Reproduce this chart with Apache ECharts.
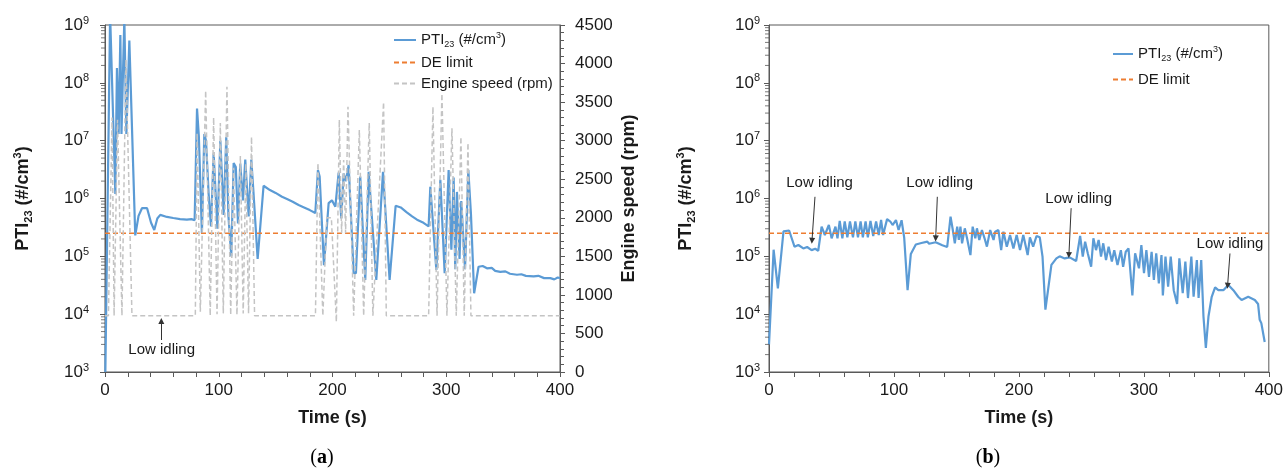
<!DOCTYPE html>
<html><head><meta charset="utf-8">
<script src="https://cdn.jsdelivr.net/npm/echarts@6/dist/echarts.min.js"></script>
<style>html,body{margin:0;padding:0;background:#fff}#c{width:1286px;height:468px}</style>
</head><body><div id="c"></div>
<script>
// ---------------- data ----------------
const timeTicks = [0, 100, 200, 300, 400];
const deLimitValue = 2.5e5;
const deLimitSpan = [0, 400];
const logDecades = [3, 4, 5, 6, 7, 8];
const logMinorSteps = [2, 3, 4, 5, 6, 7, 8, 9];

// (a) PTI23 [time s, #/cm3]
const ptiA = [
 [0.3,1e3],[4.5,1.5e9],[5.8,1.5e9],[9.1,1.2e6],[10.5,1.8e8],[12,1.3e7],[13.5,6.7e8],[14.5,1.3e7],
 [17,1.3e9],[18.8,1.3e7],[21.4,5.4e8],[26.6,2.3e5],[29.5,5e5],[32.5,6.8e5],[37,6.8e5],[40.5,3.8e5],
 [43.3,2.85e5],[46,4.5e5],[48.6,5.2e5],[54.5,4.8e5],[60,4.6e5],[66,4.4e5],[72,4.3e5],[76,4.4e5],[78.8,4.2e5],
 [80.9,3.6e7],[82.5,1.2e7],[85.2,2.5e5],[87.3,1.3e7],[88.8,1e7],[91.1,1.2e6],[93.2,3.3e5],[95.5,6e6],
 [98.8,3e5],[101.4,1e7],[104.3,5.2e5],[106.6,1.15e7],[108.5,5e5],[111,1.0e5],[113.1,4.1e6],[115,3.5e6],
 [116.9,3.7e5],[118.9,4e6],[121.3,9.3e5],[123.3,4.7e6],[126.3,4.9e5],[128.6,4.7e6],[130.3,1.5e6],
 [134.2,9e4],[139.4,1.66e6],[145,1.4e6],[150,1.25e6],[155.6,1.07e6],[160,9.8e5],[165,8.8e5],[170.2,7.7e5],
 [175,7e5],[180,6.3e5],[184.9,5.6e5],[187.2,3.1e6],[188.7,2.4e6],[192.5,7e4],[196.6,8.3e5],[199.5,9.3e5],
 [202.5,7.2e5],[205.4,2.8e6],[207.7,4.5e5],[209.8,2.7e6],[211.8,2e6],[214.2,3.8e6],[215.6,9.3e5],
 [218.6,5.1e4],[220.6,5.1e4],[224.4,2.4e6],[228.8,3.9e4],[231.8,2.9e6],[238.5,3.9e4],[244.4,2.9e6],
 [250.2,3.9e4],[255.5,7.5e5],[260,7e5],[265,5.8e5],[270,4.9e5],[274.3,4.3e5],[280,3.8e5],[284.5,3.3e5],
 [286,1.6e6],[287.4,1.5e6],[291.3,5.8e4],[294.8,2.1e6],[298.6,5.1e4],[302.1,3.1e6],[304.5,1.3e5],
 [306.5,2.3e6],[307.9,6e4],[309.4,1.3e6],[311.7,9e4],[313.2,9e5],[316.5,6e4],[319.4,3.1e6],[321.7,5.5e5],
 [324.5,2.3e4],[328.4,6.6e4],[332,6.8e4],[335.8,6.2e4],[340,6.3e4],[343,5.6e4],[347.5,5.4e4],[352,5.5e4],
 [356,5e4],[362.2,4.8e4],[366,4.9e4],[370,4.6e4],[376.8,4.5e4],[381,4.6e4],[386,4.2e4],[391.5,4.2e4],
 [395,4e4],[398,4.3e4],[400,4.2e4]
];

// (a) Engine speed [time s, rpm]
const engineSpeedA = [
 [0,730],[3,730],[6.2,3300],[8,730],[11,3270],[14.9,730],[18.4,4050],[23.7,730],[79.4,730],
 [81,3100],[83.8,780],[88.5,3650],[92.5,730],[95.5,3300],[98.5,750],[101.4,3230],[104,760],
 [107.2,3700],[110.5,740],[113,2650],[116,740],[119,2800],[121.5,760],[123.8,2700],[126.2,760],
 [128.8,3050],[131.5,730],[185,730],[187.2,2710],[191.5,730],[195,2000],[199,2000],[203.4,650],
 [206,3270],[208,1800],[209.8,2750],[211.5,1800],[213.6,3440],[218.6,730],[220,730],[223.6,3140],
 [227.4,730],[232.3,3230],[235.5,730],[244.9,3500],[247.3,730],[284.5,730],[288.3,3440],[291.9,730],
 [296.2,3610],[300.6,730],[305,3160],[308.8,730],[312.9,3050],[315.8,730],[319.1,2970],[321.7,730],[400,730]
];

// (b) PTI23 [time s, #/cm3]
const ptiB = [
 [0,3e3],[3.7,1.3e5],[7.1,2.8e4],[11.6,2.7e5],[16.1,2.8e5],[20.4,1.47e5],[23.5,1.57e5],[27.5,1.37e5],
 [30.5,1.45e5],[34.1,1.28e5],[37,1.35e5],[39.4,1.25e5],[42.1,3.26e5],[44.7,2.34e5],[47.9,3.48e5],
 [50.1,2.05e5],[53.2,3.26e5],[54.8,2.05e5],[56.6,4.1e5],[58.7,2.05e5],[60.6,4e5],[62.7,2.13e5],
 [64.8,4e5],[67.2,2.13e5],[69.1,4e5],[71.2,2.13e5],[73.3,4e5],[75.1,2.13e5],[77.3,4e5],[79.1,2.13e5],
 [81.2,4.1e5],[83.4,2.25e5],[85.7,4e5],[87.8,2.34e5],[89.7,4.25e5],[91.3,2.34e5],[94.5,4.4e5],
 [97.1,4e5],[98.9,3.48e5],[101.6,4.25e5],[103.7,2.85e5],[106.1,4.2e5],[108.2,2.1e5],[110.9,2.6e4],
 [113.5,1.1e5],[117.5,1.6e5],[122,1.7e5],[126.7,1.8e5],[128.1,1.65e5],[133.4,1.75e5],[138.7,1.55e5],
 [142.6,1.45e5],[145.3,4.86e5],[147.1,2.85e5],[148.7,1.68e5],[150.6,3.26e5],[151.9,1.92e5],
 [153.2,3.26e5],[154.5,1.68e5],[156.7,3.05e5],[158.5,2.05e5],[161.2,1.05e5],[163,3.26e5],[165.1,2.05e5],
 [166.4,3.05e5],[168.3,1.92e5],[170.4,2.85e5],[172.5,2.05e5],[174.4,1.47e5],[177,2.85e5],[179.7,1.92e5],
 [181,2.67e5],[183.6,2.85e5],[185.8,1.28e5],[187.6,2.67e5],[190.3,1.47e5],[192.9,2.34e5],[195.6,1.37e5],
 [198.2,2.34e5],[200.9,1.28e5],[203.5,2.34e5],[207,1.05e5],[208.8,2.13e5],[211.4,1.47e5],[214.1,2.25e5],
 [216.7,2.13e5],[218.9,9.9e4],[221.2,1.2e4],[223.3,2.6e4],[226,7.1e4],[230,9.2e4],[232.6,1e5],
 [236.6,9.2e4],[240.6,9.6e4],[245.8,8.3e4],[249,2.25e5],[251.1,9.9e4],[253,1.79e5],[255.1,1.13e5],
 [257.8,6.6e4],[259.6,2.05e5],[261.7,1.28e5],[263.8,1.92e5],[265.7,9.9e4],[267.5,1.68e5],[269.7,8.6e4],
 [271.8,1.47e5],[274.4,8.1e4],[276.3,1.28e5],[278.9,7.1e4],[281.6,1.28e5],[283.4,6.6e4],[285.5,1.2e5],
 [287.7,1.37e5],[290.8,2.1e4],[293,1.13e5],[296.1,6.2e4],[298,1.57e5],[300.1,5.1e4],[302,1.28e5],
 [304.1,4.4e4],[306.2,1.2e5],[308,3.9e4],[309.9,1.13e5],[312,3.4e4],[314.1,1.05e5],[315.2,2.1e4],
 [317.3,9.9e4],[319.4,3e4],[321.5,9.9e4],[323.9,2.6e4],[326.6,1.5e4],[328.4,9.2e4],[331.1,2.3e4],
 [333.2,8.1e4],[335.3,1.9e4],[338,9.9e4],[339.8,2e4],[342.4,8.6e4],[343.8,1.9e4],[345.9,8.6e4],
 [347.7,9.1e3],[349.6,2.6e3],[351.7,9.1e3],[354.3,2e4],[357,2.9e4],[359.6,2.6e4],[363.6,2.6e4],
 [367.6,3.2e4],[371.6,2.6e4],[375.5,2e4],[378.2,1.76e4],[383.5,2e4],[388.8,1.76e4],[391.4,1.5e4],
 [392.7,8e3],[394,7e3],[396.7,3.3e3]
];

// annotations: "Low idling" label positions and arrows [from, to] in data coords
const idleLabelA = [[49.8, 2400]];
const idleArrowA = [[[49.5, 3575], [49.5, 7600]]];
const idleLabelB = [[40.5, 1.85e6], [136.6, 1.85e6], [247.8, 9.8e5], [368.9, 1.63e5]];
const idleArrowB = [
 [[36.8, 1.07e6], [34.4, 1.86e5]],
 [[134.7, 1.07e6], [133.4, 2.04e5]],
 [[241.8, 6.8e5], [240.0, 1.05e5]],
 [[368.9, 1.12e5], [367.0, 3.1e4]]
];

// ---------------- chart ----------------
const FONT = 'Liberation Sans, Arial, Helvetica, sans-serif';
const AX = '#595959';
const TXT = '#1a1a1a';
const BLUE = '#5B9BD5', ORANGE = '#ED7D31', GRAY = '#C4C4C4';

const chart = echarts.init(document.getElementById('c'), null, {renderer: 'canvas', width: 1286, height: 468});

const minorLogValues = [];
logDecades.forEach(d => logMinorSteps.forEach(k => minorLogValues.push(k * Math.pow(10, d))));

const logRich = {
  b: {fontSize: 17, fontFamily: FONT, color: TXT, lineHeight: 20},
  e: {fontSize: 11, fontFamily: FONT, color: TXT, lineHeight: 11, verticalAlign: 'top'}
};
const nameRich = {
  b: {fontSize: 18, fontWeight: 'bold', fontFamily: FONT, color: TXT, lineHeight: 22},
  s: {fontSize: 11, fontWeight: 'bold', fontFamily: FONT, color: TXT, lineHeight: 12, verticalAlign: 'bottom'},
  p: {fontSize: 11, fontWeight: 'bold', fontFamily: FONT, color: TXT, lineHeight: 12, verticalAlign: 'top'}
};
const legRich = {
  n: {fontSize: 15, fontFamily: FONT, color: TXT, lineHeight: 18},
  s: {fontSize: 9, fontFamily: FONT, color: TXT, lineHeight: 10, verticalAlign: 'bottom'},
  p: {fontSize: 9, fontFamily: FONT, color: TXT, lineHeight: 10, verticalAlign: 'top'}
};
const legendNames = {
  'PTI_a': '{n|PTI}{s|23}{n| (#/cm}{p|3}{n|)}',
  'PTI_b': '{n|PTI}{s|23}{n| (#/cm}{p|3}{n|)}',
  'DE_a': '{n|DE limit}', 'DE_b': '{n|DE limit}',
  'ES_a': '{n|Engine speed (rpm)}'
};

function xAxisOpt(gi) {
  return {
    type: 'value', gridIndex: gi, min: timeTicks[0], max: timeTicks[timeTicks.length - 1], interval: 100,
    axisLine: {show: true, lineStyle: {color: AX, width: 1}},
    axisTick: {show: true, length: 5, lineStyle: {color: AX}},
    minorTick: {show: true, splitNumber: 5, length: 5, lineStyle: {color: AX}},
    splitLine: {show: false}, minorSplitLine: {show: false},
    axisLabel: {fontSize: 17, color: TXT, fontFamily: FONT, margin: 10, formatter: v => String(v)},
    name: 'Time (s)', nameLocation: 'middle', nameGap: 37,
    nameTextStyle: {fontSize: 18, fontWeight: 'bold', color: TXT, fontFamily: FONT}
  };
}
function logAxisOpt(gi, margin, gap) {
  return {
    type: 'log', logBase: 10, gridIndex: gi, min: 1e3, max: 1e9, splitNumber: 6, position: 'left',
    axisLine: {show: true, lineStyle: {color: AX, width: 1}},
    axisTick: {show: true, length: 5, lineStyle: {color: AX}},
    minorTick: {show: false},
    splitLine: {show: false}, minorSplitLine: {show: false},
    axisLabel: {margin: margin, formatter: v => '{b|10}{e|' + Math.round(Math.log10(v)) + '}', rich: logRich},
    name: '{b|PTI}{s|23}{b| (#/cm}{p|3}{b|)}', nameLocation: 'middle', nameRotate: 90, nameGap: gap,
    nameTextStyle: {rich: nameRich}
  };
}
function mkLine(pairs) {
  return {
    silent: true, symbol: ['none', 'triangle'], symbolSize: 6, animation: false,
    label: {show: false}, emphasis: {disabled: true},
    lineStyle: {color: '#333333', width: 1, type: 'solid'},
    itemStyle: {color: '#333333'},
    data: pairs.map(p => [{coord: p[0]}, {coord: p[1]}])
  };
}
function mkPoint(coords) {
  return {
    silent: true, symbol: 'rect', symbolSize: 1, animation: false,
    itemStyle: {color: 'rgba(0,0,0,0)'},
    label: {show: true, position: 'inside', formatter: 'Low idling', fontSize: 15, fontFamily: FONT, color: TXT},
    data: coords.map(c => ({coord: c}))
  };
}
function minorTickSeries(xi, yi) {
  return {
    type: 'scatter', xAxisIndex: xi, yAxisIndex: yi, silent: true, clip: false, z: 6,
    symbol: 'rect', symbolSize: [4, 1], symbolOffset: [-2, 0],
    itemStyle: {color: AX}, emphasis: {disabled: true}, tooltip: {show: false},
    data: minorLogValues.map(v => [0, v])
  };
}

const option = {
  animation: false,
  backgroundColor: '#fff',
  textStyle: {fontFamily: FONT},
  grid: [
    {left: 105, top: 25, width: 455, height: 347, show: true, borderColor: AX, borderWidth: 1, containLabel: false},
    {left: 769, top: 25, width: 504, height: 347, show: true, borderColor: AX, borderWidth: 1, containLabel: false}
  ],
  xAxis: [xAxisOpt(0), xAxisOpt(1)],
  yAxis: [
    logAxisOpt(0, 16, 71),
    {
      type: 'value', gridIndex: 0, position: 'right', min: 0, max: 4500, interval: 500,
      axisLine: {show: true, lineStyle: {color: AX, width: 1}},
      axisTick: {show: true, length: 5, lineStyle: {color: AX}},
      minorTick: {show: true, splitNumber: 5, length: 4, lineStyle: {color: AX}},
      splitLine: {show: false}, minorSplitLine: {show: false},
      axisLabel: {fontSize: 17, color: TXT, fontFamily: FONT, margin: 15, formatter: v => String(v)},
      name: 'Engine speed (rpm)', nameLocation: 'middle', nameRotate: 90, nameGap: 60,
      nameTextStyle: {fontSize: 18, fontWeight: 'bold', color: TXT, fontFamily: FONT}
    },
    logAxisOpt(1, 9, 72)
  ],
  legend: [
    {data: ['PTI_a', 'DE_a', 'ES_a'], orient: 'vertical', left: 393, top: 31, padding: 0,
     itemWidth: 22, itemHeight: 14, itemGap: 6, itemStyle: {opacity: 0}, lineStyle: {width: 2},
     formatter: n => legendNames[n], textStyle: {rich: legRich}, selectedMode: false},
    {data: ['PTI_b', 'DE_b'], orient: 'vertical', left: 1112, top: 45, padding: 0,
     itemWidth: 20, itemHeight: 14, itemGap: 9, itemStyle: {opacity: 0}, lineStyle: {width: 2},
     formatter: n => legendNames[n], textStyle: {rich: legRich}, selectedMode: false}
  ],
  graphic: [
    {type: 'text', x: 322, y: 458, style: {text: '{p|(}{a|a}{p|)}', align: 'center', verticalAlign: 'middle',
      rich: {p: {fontSize: 20, fontFamily: 'Liberation Serif, serif', fill: '#000'}, a: {fontSize: 20, fontWeight: 'bold', fontFamily: 'Liberation Serif, serif', fill: '#000'}}}},
    {type: 'text', x: 988, y: 458, style: {text: '{p|(}{a|b}{p|)}', align: 'center', verticalAlign: 'middle',
      rich: {p: {fontSize: 20, fontFamily: 'Liberation Serif, serif', fill: '#000'}, a: {fontSize: 20, fontWeight: 'bold', fontFamily: 'Liberation Serif, serif', fill: '#000'}}}}
  ],
  series: [
    {name: 'PTI_a', type: 'line', xAxisIndex: 0, yAxisIndex: 0, data: ptiA, showSymbol: false, symbol: 'none',
     lineStyle: {color: BLUE, width: 2.2}, itemStyle: {color: BLUE}, clip: true, z: 3,
     markLine: mkLine(idleArrowA), markPoint: mkPoint(idleLabelA)},
    {name: 'DE_a', type: 'line', xAxisIndex: 0, yAxisIndex: 0,
     data: deLimitSpan.map(t => [t, deLimitValue]), showSymbol: false, symbol: 'none',
     lineStyle: {color: ORANGE, width: 1.5, type: [5, 3]}, itemStyle: {color: ORANGE}, z: 3},
    {name: 'ES_a', type: 'line', xAxisIndex: 0, yAxisIndex: 1, data: engineSpeedA, showSymbol: false, symbol: 'none',
     lineStyle: {color: GRAY, width: 1.5, type: [5, 3]}, itemStyle: {color: GRAY}, clip: true, z: 4},
    {name: 'PTI_b', type: 'line', xAxisIndex: 1, yAxisIndex: 2, data: ptiB, showSymbol: false, symbol: 'none',
     lineStyle: {color: BLUE, width: 2.2}, itemStyle: {color: BLUE}, clip: true, z: 3,
     markLine: mkLine(idleArrowB), markPoint: mkPoint(idleLabelB)},
    {name: 'DE_b', type: 'line', xAxisIndex: 1, yAxisIndex: 2,
     data: deLimitSpan.map(t => [t, deLimitValue]), showSymbol: false, symbol: 'none',
     lineStyle: {color: ORANGE, width: 1.5, type: [5, 3]}, itemStyle: {color: ORANGE}, z: 3},
    minorTickSeries(0, 0),
    minorTickSeries(1, 2)
  ]
};
chart.setOption(option);
</script></body></html>
